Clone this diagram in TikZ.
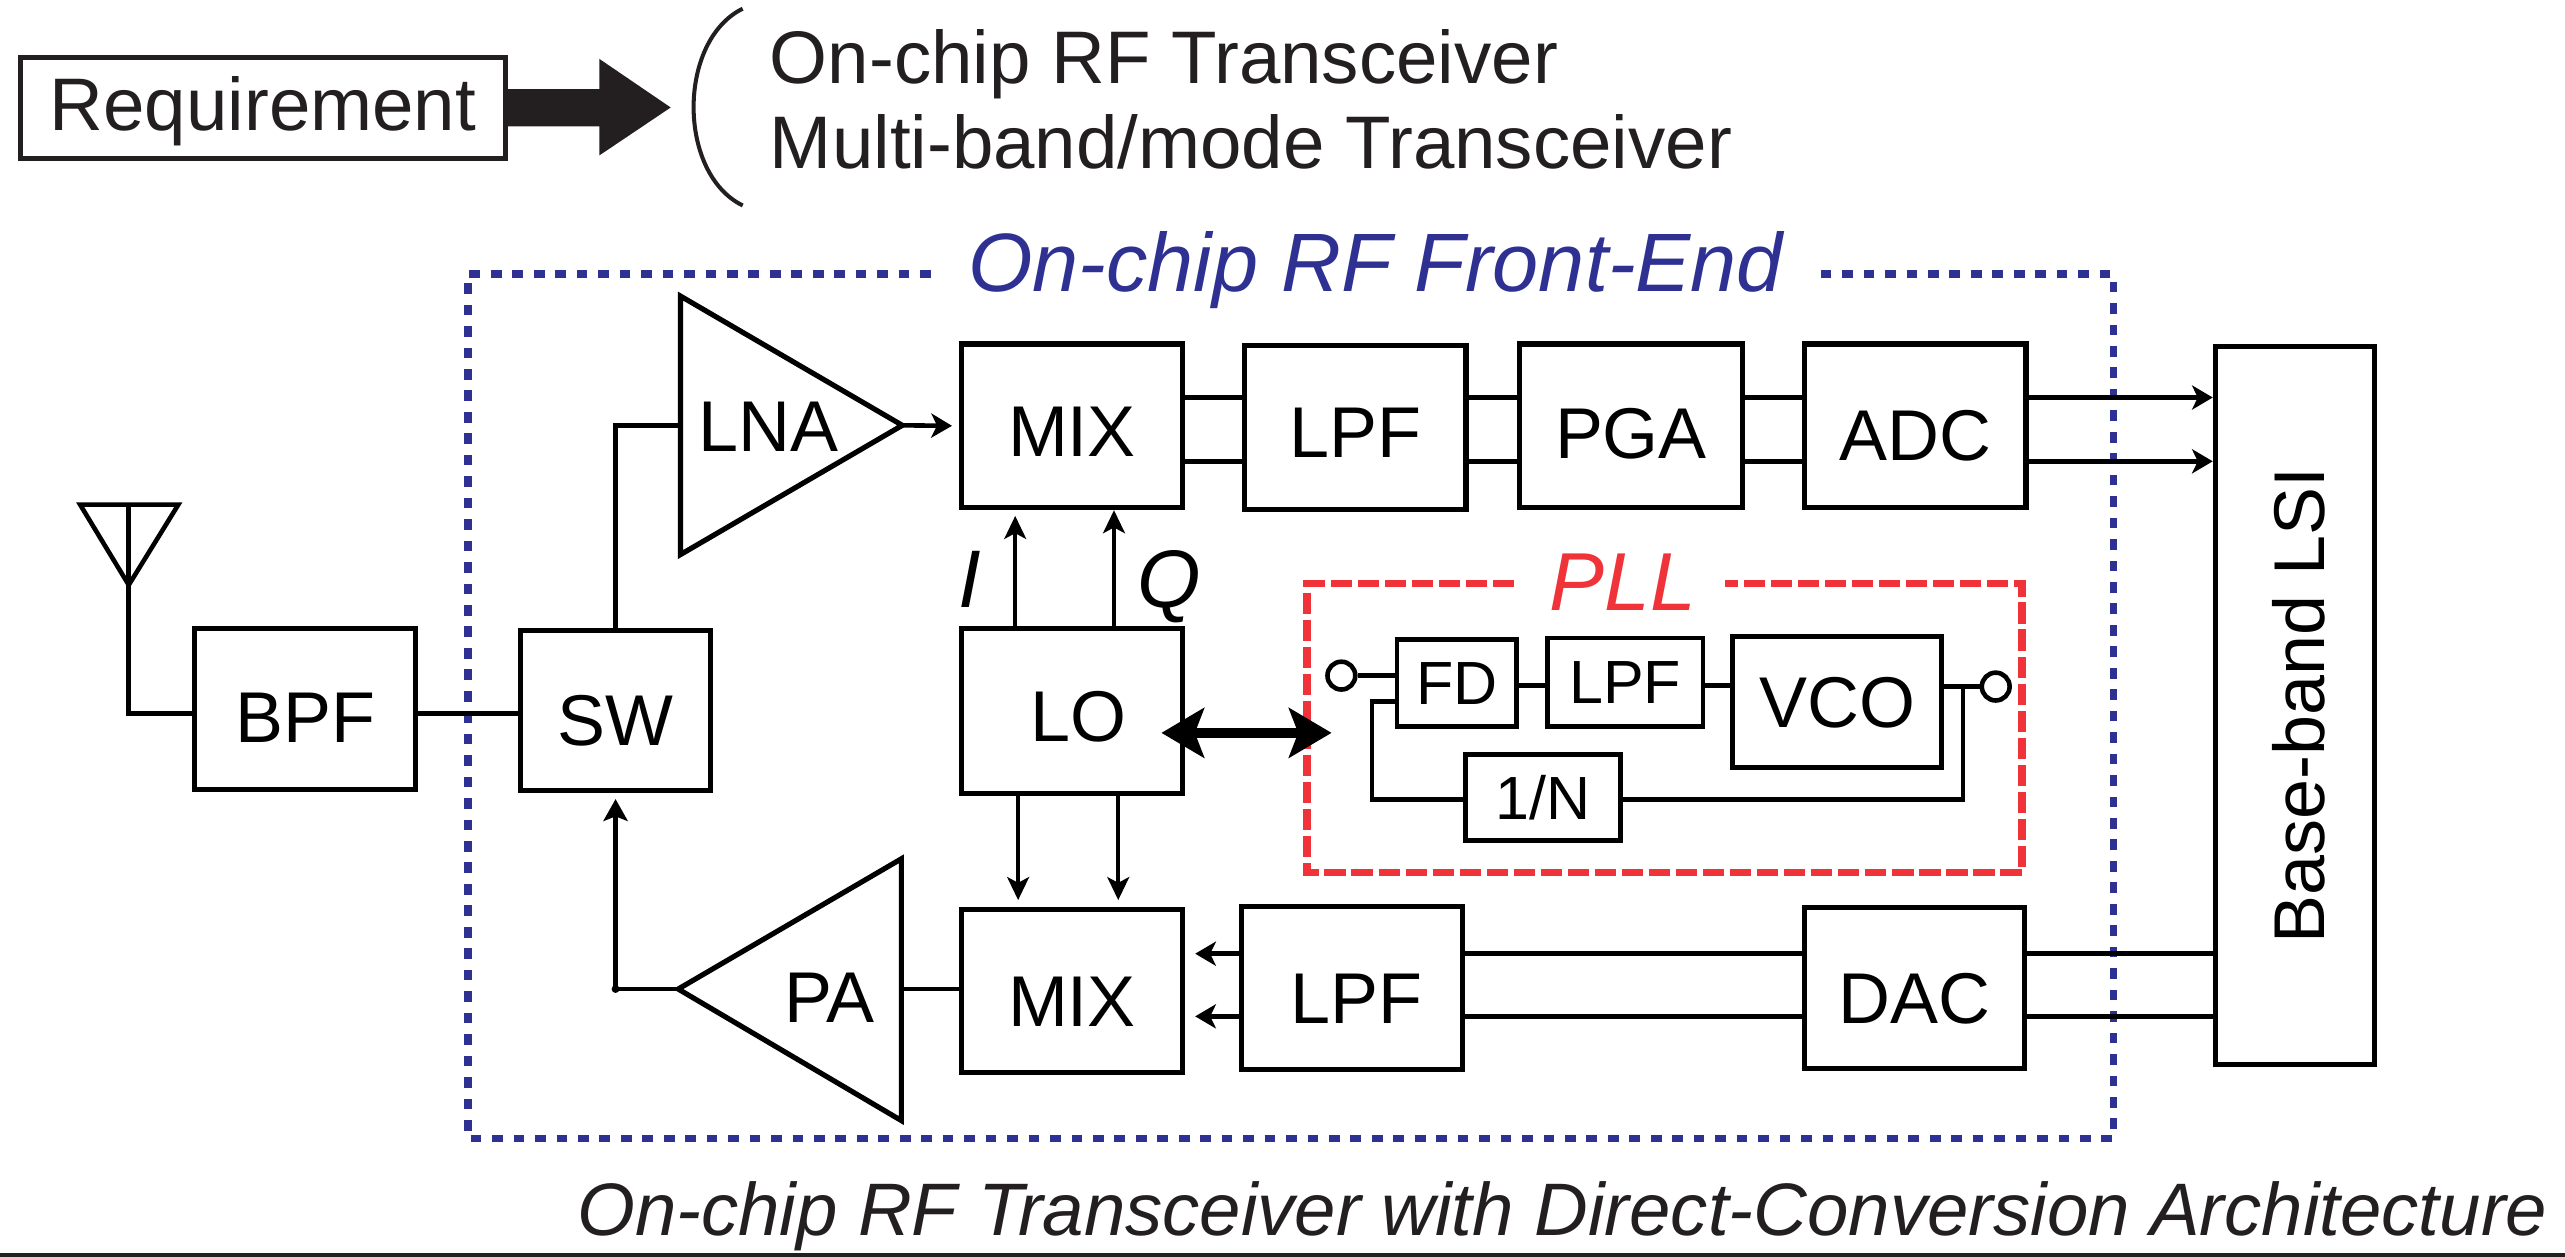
\documentclass[tikz,border=0pt]{standalone}
\usepackage{fontspec}
\setmainfont{Liberation Sans}
\usepackage{tikz}
\usetikzlibrary{calc, arrows.meta}
\definecolor{chipblue}{HTML}{2E3192}
\definecolor{pllred}{HTML}{EF3338}
\definecolor{inkgray}{HTML}{231F20}
\tikzset{
    blk/.style={draw, line width=0.88pt, inner sep=0pt, text height=11pt, text depth=0pt, font=\fontsize{12.5}{14}\selectfont},
    smallblk/.style={draw, line width=0.85pt, inner sep=0pt, font=\fontsize{10.6}{12}\selectfont},
    amptext/.style={inner sep=0pt, font=\fontsize{12.5}{14}\selectfont},
    wire/.style={line width=0.8pt},
    sigarrow/.style={line width=0.8pt, -{Stealth[length=3.6pt, width=4.2pt, inset=1pt]}},
    riser/.style={line width=0.75pt, -{Stealth[length=3.8pt, width=4.2pt, inset=0.8pt]}},
    loarrow/.style={line width=0.65pt, -{Stealth[length=4pt, width=3.8pt, inset=1pt]}},
    lbl/.style={inner sep=0pt, anchor=base west, text=inkgray, font=\fontsize{12.95}{15}\selectfont},
    port/.style={draw, circle, line width=0.8pt, minimum size=0.17cm, inner sep=0pt},
    bigarrow/.style={line width=1.7pt, {Stealth[length=7.4pt, width=8.6pt, inset=1.6pt]}-{Stealth[length=7.4pt, width=8.6pt, inset=1.6pt]}},
}
\begin{document}
\begin{tikzpicture}[x=0.01cm, y=-0.01cm]
    \useasboundingbox (0,0) rectangle (1568,768.4);

    \coordinate (rowA) at (0,243);
    \coordinate (rowB) at (0,282);
    \coordinate (rowC) at (0,583);
    \coordinate (rowD) at (0,621.3);

    % requirement line
    \node[draw=inkgray, line width=0.85pt, inner sep=0pt, text=inkgray, text height=11pt, text depth=3pt, font=\fontsize{12.95}{15}\selectfont, minimum width=2.965cm, minimum height=0.617cm] (req) at (160.7,65.8) {Requirement};
    \fill[inkgray] ($(req.east)+(0,-11.4)$) -- (366.4,54.4) -- (366.4,36) -- (410,65.7) -- (366.4,95) -- (366.4,77.3) -- ($(req.east)+(0,11.5)$) -- cycle;
    \draw[inkgray, line width=0.7pt] (454,5.3) .. controls (414,25) and (414,106) .. (454,125.6);
    \node[lbl] (goalA) at (470,51) {On-chip RF Transceiver};
    \node[lbl] (goalB) at (470,103) {Multi-band/mode Transceiver};

    % front-end frame
    \draw[chipblue, line width=1.35pt, dash pattern=on 1.86pt off 1.87pt] (569,167.5) -- (286,167.5) -- (286,696) -- (1292,696) -- (1292,167.5) -- (1113,167.5);
    \node[inner sep=0pt, anchor=base, text=chipblue, font=\fontsize{14.4}{16}\selectfont\itshape] (frontend) at (841,178) {On-chip RF Front-End};

    % receive chain
    \node[blk, text height=10.5pt, minimum width=1.355cm, minimum height=1cm] (MIXrx) at (655.3,260.3) {MIX};
    \node[blk, text height=10.2pt, minimum width=1.355cm, minimum height=1cm] (LPFrx) at (828.4,261.5) {LPF};
    \node[blk, text height=11.2pt, minimum width=1.36cm, minimum height=1cm] (PGA) at (997,260.3) {PGA};
    \node[blk, text height=12.2pt, minimum width=1.355cm, minimum height=1cm] (ADC) at (1170.7,260.3) {ADC};
    \node[blk, text height=, text depth=, minimum width=0.975cm, minimum height=4.39cm] (BB) at (1403,431.3) {\hspace*{1.4pt}\rotatebox{90}{Base-band LSI}};

    \draw[wire] (MIXrx.east |- rowA) -- (LPFrx.west |- rowA);
    \draw[wire] (MIXrx.east |- rowB) -- (LPFrx.west |- rowB);
    \draw[wire] (LPFrx.east |- rowA) -- (PGA.west |- rowA);
    \draw[wire] (LPFrx.east |- rowB) -- (PGA.west |- rowB);
    \draw[wire] (PGA.east |- rowA) -- (ADC.west |- rowA);
    \draw[wire] (PGA.east |- rowB) -- (ADC.west |- rowB);
    \draw[sigarrow] (ADC.east |- rowA) -- (BB.west |- rowA);
    \draw[sigarrow] (ADC.east |- rowB) -- (BB.west |- rowB);

    % amplifiers
    \coordinate (LNAa) at (416,181);
    \coordinate (LNAb) at (416,339);
    \coordinate (LNAc) at (551.6,260);
    \draw[line width=0.9pt] (LNAa) -- (LNAc) -- (LNAb) -- cycle;
    \node[amptext] (LNA) at (470,260.6) {LNA};
    \coordinate (PAa) at (551,525);
    \coordinate (PAb) at (551,685);
    \coordinate (PAc) at (414.6,604.6);
    \draw[line width=0.9pt] (PAa) -- (PAc) -- (PAb) -- cycle;
    \node[amptext] (PA) at (507,610) {PA};

    % antenna side
    \coordinate (antL) at (49,308.5);
    \coordinate (antR) at (109,308.5);
    \coordinate (antT) at (78.7,357.6);
    \coordinate (antM) at (78.7,308.5);
    \draw[wire] (antL) -- (antR) -- (antT) -- cycle;
    \node[blk, text height=11.6pt, minimum width=1.35cm, minimum height=0.98cm] (BPF) at (186.5,433.4) {BPF};
    \node[blk, text height=12.2pt, minimum width=1.165cm, minimum height=0.98cm] (SW) at (376.3,434.4) {SW};
    \coordinate (portA) at (0,436);
    \draw[wire] (antM) |- (BPF.west |- portA);
    \draw[wire] (BPF.east |- portA) -- (SW.west |- portA);
    \draw[wire] (SW.north) |- (LNAa |- LNAc);
    \draw[riser] (PAc) -| ($(SW.south)+(0,3.5)$);
    \fill (SW.south |- PAc) circle (2.4);
    \draw[sigarrow] (LNAc) -- ($(MIXrx.west)+(-4,0)$);

    % LO
    \node[blk, text height=10.6pt, minimum width=1.355cm, minimum height=1.01cm] (LO) at (655.3,434.5) {\hspace*{2.3pt}LO};
    \node[blk, text height=12.2pt, minimum width=1.355cm, minimum height=1cm] (MIXtx) at (655.3,605.8) {MIX};
    \node[blk, text height=12.2pt, minimum width=1.348cm, minimum height=1cm] (LPFtx) at (826.6,604) {\hspace*{1.4pt}LPF};
    \node[blk, text height=12.2pt, minimum width=1.346cm, minimum height=0.985cm] (DAC) at (1170.3,604) {DAC};

    \coordinate (colI) at (620.6,0);
    \coordinate (colQ) at (681,0);
    \coordinate (colId) at (622.4,0);
    \coordinate (colQd) at (683.6,0);
    \draw[loarrow] (LO.north -| colI) -- ($(MIXrx.south -| colI)+(0,3.5)$);
    \draw[loarrow] (LO.north -| colQ) -- (MIXrx.south -| colQ);
    \draw[loarrow] (LO.south -| colId) -- ($(MIXtx.north -| colId)+(0,-4)$);
    \draw[loarrow] (LO.south -| colQd) -- ($(MIXtx.north -| colQd)+(0,-4)$);
    \node[inner sep=0pt, anchor=base, font=\fontsize{14.2}{17}\selectfont\itshape] (labI) at (593,371.5) {I};
    \node[inner sep=0pt, anchor=base, font=\fontsize{14.2}{17}\selectfont\itshape] (labQ) at (715,371.5) {Q};

    % transmit chain
    \draw[wire] (PAa |- PAc) -- (MIXtx.west |- PAc);
    \draw[sigarrow] (LPFtx.west |- rowC) -- ($(MIXtx.east |- rowC)+(6,0)$);
    \draw[sigarrow] (LPFtx.west |- rowD) -- ($(MIXtx.east |- rowD)+(6,0)$);
    \draw[wire] (DAC.west |- rowC) -- (LPFtx.east |- rowC);
    \draw[wire] (DAC.west |- rowD) -- (LPFtx.east |- rowD);
    \draw[wire] (BB.west |- rowC) -- (DAC.east |- rowC);
    \draw[wire] (BB.west |- rowD) -- (DAC.east |- rowD);

    % PLL
    \draw[pllred, line width=1.3pt, dash pattern=on 3.7pt off 1pt] (925.6,356.6) -- (799,356.6) -- (799,533.4) -- (1236,533.4) -- (1236,356.6) -- (1054.4,356.6);
    \node[inner sep=0pt, anchor=base, text=pllred, font=\fontsize{14.3}{16}\selectfont\itshape] (PLL) at (992,373) {PLL};
    \node[smallblk, minimum width=0.73cm, minimum height=0.53cm] (FD) at (890.5,417.6) {FD};
    \node[smallblk, minimum width=0.95cm, minimum height=0.54cm] (LPFpll) at (993.5,417) {LPF};
    \node[blk, text height=9pt, minimum width=1.28cm, minimum height=0.8cm] (VCO) at (1123,429) {VCO};
    \node[smallblk, minimum width=0.95cm, minimum height=0.53cm] (DIV) at (943.3,487.5) {1/N};
    \node[port] (pllin) at (820,413) {};
    \node[port] (pllout) at (1220,419.7) {};
    \coordinate (fb) at (838.7,429);
    \coordinate (tap) at (1200,419);
    \coordinate (rowE) at (0,419);
    \coordinate (rowF) at (0,488.6);
    \draw[wire] (pllin) -- (FD.west |- pllin);
    \draw[wire] (FD.east |- rowE) -- (LPFpll.west |- rowE);
    \draw[wire] (LPFpll.east |- rowE) -- (VCO.west |- rowE);
    \draw[wire] (VCO.east |- pllout) -- (pllout);
    \draw[wire] (FD.west |- fb) -- (fb) |- (DIV.west |- rowF);
    \draw[wire] (DIV.east |- rowF) -| (tap);
    \coordinate (biL) at (710,448);
    \coordinate (biR) at (814,448);
    \draw[bigarrow] (biL) -- (biR);

    % caption
    \node[inner sep=0pt, anchor=base east, text=inkgray, font=\fontsize{12.93}{15}\selectfont\itshape] (caption) at (1558,755) {On-chip RF Transceiver with Direct-Conversion Architecture};
    \coordinate (ruleL) at (0,767);
    \coordinate (ruleR) at (1568,767);
    \draw[inkgray, line width=0.7pt] (ruleL) -- (ruleR);
\end{tikzpicture}
\end{document}
